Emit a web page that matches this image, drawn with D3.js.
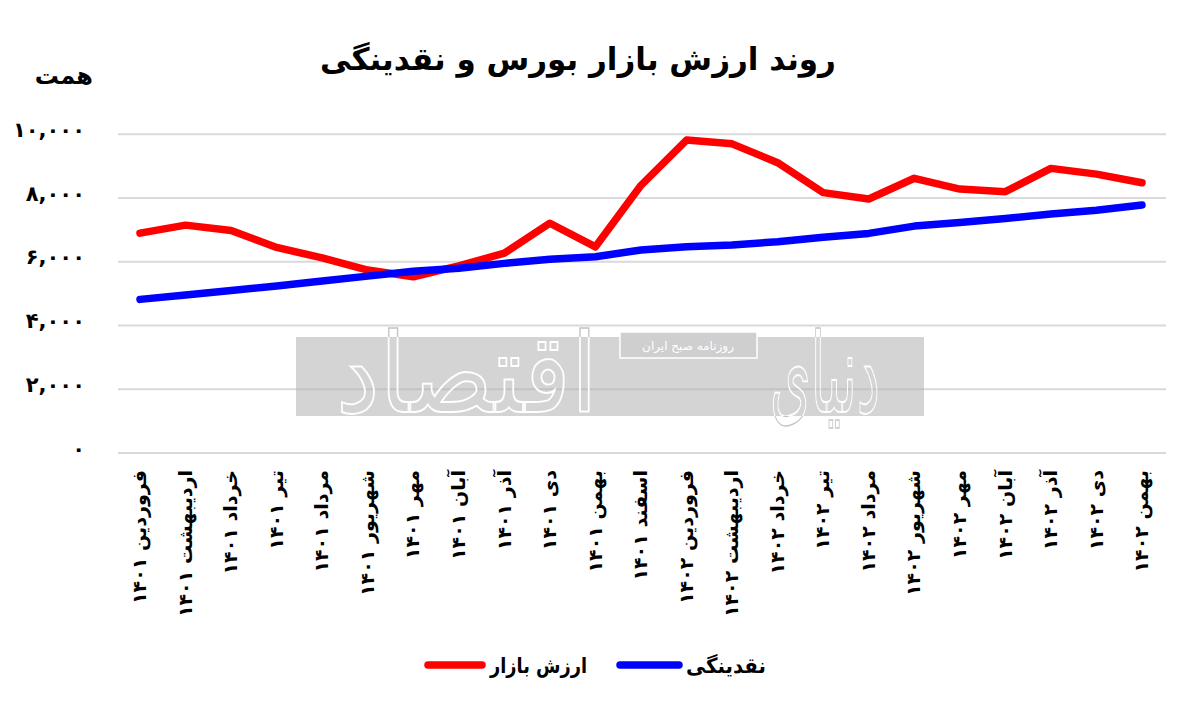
<!DOCTYPE html>
<html>
<head>
<meta charset="utf-8">
<script src="https://cdn.jsdelivr.net/npm/d3@7/dist/d3.min.js"></script>
<style>
  html, body { margin: 0; padding: 0; background: #ffffff; }
  svg { display: block; }
  text { font-family: "DejaVu Sans", sans-serif; font-weight: bold; fill: #000; }
</style>
</head>
<body>
<svg id="chart" width="1200" height="713"></svg>
<script>
// ---------- data ----------
const categories = [
  "فروردین ۱۴۰۱", "اردیبهشت ۱۴۰۱", "خرداد ۱۴۰۱", "تیر ۱۴۰۱", "مرداد ۱۴۰۱",
  "شهریور ۱۴۰۱", "مهر ۱۴۰۱", "آبان ۱۴۰۱", "آذر ۱۴۰۱", "دی ۱۴۰۱",
  "بهمن ۱۴۰۱", "اسفند ۱۴۰۱", "فروردین ۱۴۰۲", "اردیبهشت ۱۴۰۲", "خرداد ۱۴۰۲",
  "تیر ۱۴۰۲", "مرداد ۱۴۰۲", "شهریور ۱۴۰۲", "مهر ۱۴۰۲", "آبان ۱۴۰۲",
  "آذر ۱۴۰۲", "دی ۱۴۰۲", "بهمن ۱۴۰۲"
];
const marketValue = [
  6900, 7150, 6980, 6450, 6120, 5740, 5530, 5870, 6270, 7210,
  6470, 8400, 9820, 9700, 9110, 8170, 7970, 8620, 8280, 8200,
  8930, 8750, 8480
];
const liquidity = [
  4820, 4960, 5100, 5240, 5400, 5550, 5700, 5800, 5950, 6080,
  6160, 6370, 6470, 6530, 6630, 6770, 6890, 7120, 7230, 7360,
  7500, 7620, 7780
];
const yTickValues = [0, 2000, 4000, 6000, 8000, 10000];
const yTickLabels = ["۰", "۲,۰۰۰", "۴,۰۰۰", "۶,۰۰۰", "۸,۰۰۰", "۱۰,۰۰۰"];
const seriesNames = ["ارزش بازار", "نقدینگی"];
const seriesColors = ["#ff0000", "#0000ff"];
const titleText = "روند ارزش بازار بورس و نقدینگی";
const unitText = "همت";

// ---------- layout ----------
const svg = d3.select("#chart");
const gridLeft = 118, gridRight = 1166;
const x = d3.scalePoint().domain(categories).range([140, 1142]);
const y = d3.scaleLinear().domain([0, 10000]).range([453, 134.3]);

// title
svg.append("text")
  .attr("x", 578).attr("y", 70)
  .attr("text-anchor", "middle")
  .style("font-size", "31px")
  .text(titleText);

// unit label
svg.append("text")
  .attr("x", 93).attr("y", 84)
  .attr("text-anchor", "end")
  .style("font-size", "24px")
  .text(unitText);

// gridlines
svg.append("g").selectAll("line")
  .data(yTickValues).join("line")
  .attr("x1", gridLeft).attr("x2", gridRight)
  .attr("y1", d => y(d)).attr("y2", d => y(d))
  .attr("stroke", "#d9d9d9").attr("stroke-width", 2);

// y axis labels through d3 axis
const yAxis = d3.axisLeft(y)
  .tickValues(yTickValues)
  .tickFormat((d, i) => yTickLabels[i])
  .tickSize(0).tickPadding(0);
const yg = svg.append("g").attr("transform", "translate(85,0)").call(yAxis);
yg.select(".domain").remove();
yg.selectAll("text")
  .attr("dy", "0.1em")
  .style("font-size", "21px")
  .style("font-family", "DejaVu Sans, sans-serif")
  .style("font-weight", "bold")
  .attr("fill", "#000");

// watermark
const wm = svg.append("g");
const defs = svg.append("defs");
defs.append("clipPath").attr("id", "wmclip")
  .append("rect").attr("x", 296).attr("y", 337).attr("width", 628).attr("height", 79);
const wmWords = [
  { t: "اقتصاد", x: 336, len: 262 },
  { t: "دنیای", x: 770, len: 110 }
];
function wmText(stroke, sw, clip) {
  wmWords.forEach(w => {
    const t = wm.append("text")
      .attr("x", w.x).attr("y", 412)
      .attr("text-anchor", "start")
      .attr("textLength", w.len).attr("lengthAdjust", "spacingAndGlyphs")
      .style("font-size", "110px").style("font-weight", "normal")
      .style("fill", "none").style("stroke", stroke).style("stroke-width", sw)
      .text(w.t);
    if (clip) t.attr("clip-path", "url(#wmclip)");
  });
}
wmText("#c4c4c4", 1.5, false);
wm.append("rect")
  .attr("x", 296).attr("y", 337).attr("width", 628).attr("height", 79)
  .attr("fill", "#b0b0b0").attr("opacity", 0.55);
wmText("#ffffff", 2, true);
wm.append("rect")
  .attr("x", 620).attr("y", 332).attr("width", 137).attr("height", 26)
  .attr("fill", "#cfcfcf").attr("stroke", "#ffffff").attr("stroke-width", 1.5);
wm.append("text")
  .attr("x", 688).attr("y", 350)
  .attr("text-anchor", "middle")
  .style("font-size", "12px").style("font-weight", "normal")
  .style("fill", "#ffffff")
  .text("روزنامه صبح ایران");

// x axis labels through d3 axis (rotated)
const xAxis = d3.axisBottom(x).tickSize(0).tickPadding(0);
const xg = svg.append("g").attr("transform", "translate(0,470)").call(xAxis);
xg.select(".domain").remove();
xg.selectAll("text")
  .attr("transform", "rotate(-90)")
  .attr("x", 0).attr("y", 0)
  .attr("dy", "0.3em")
  .attr("dx", 0)
  .attr("text-anchor", "end")
  .style("font-size", "19px")
  .style("font-family", "DejaVu Sans, sans-serif")
  .style("font-weight", "bold")
  .attr("fill", "#000");

// lines
const line = d3.line().x((d, i) => x(categories[i])).y(d => y(d));
[marketValue, liquidity].forEach((s, k) => {
  svg.append("path")
    .datum(s)
    .attr("d", line)
    .attr("fill", "none")
    .attr("stroke", seriesColors[k])
    .attr("stroke-width", 7.5)
    .attr("stroke-linejoin", "round")
    .attr("stroke-linecap", "round");
});

// legend
const legend = [
  { name: seriesNames[0], color: seriesColors[0], x1: 428, x2: 482, tx: 490, len: 97 },
  { name: seriesNames[1], color: seriesColors[1], x1: 620, x2: 679, tx: 686, len: 80 }
];
legend.forEach(l => {
  svg.append("line")
    .attr("x1", l.x1).attr("x2", l.x2).attr("y1", 665).attr("y2", 665)
    .attr("stroke", l.color).attr("stroke-width", 7.5).attr("stroke-linecap", "round");
  svg.append("text")
    .attr("x", l.tx).attr("y", 673)
    .attr("text-anchor", "start")
    .attr("textLength", l.len).attr("lengthAdjust", "spacingAndGlyphs")
    .style("font-size", "21px")
    .text(l.name);
});
</script>
</body>
</html>
